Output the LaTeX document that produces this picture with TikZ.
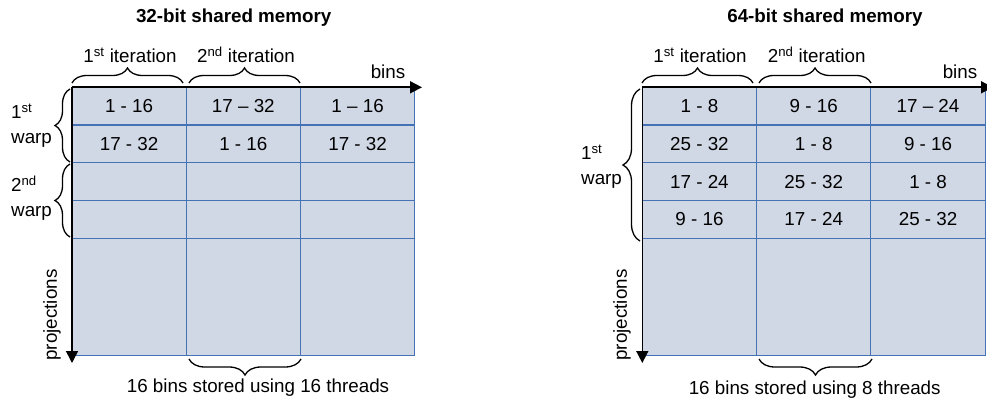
\documentclass[tikz,border=0pt]{standalone}
\usepackage{fontspec}
\setmainfont{Liberation Sans}
\usetikzlibrary{arrows.meta,decorations.pathreplacing}
\definecolor{cellfill}{HTML}{D0D7E5}
\definecolor{cellline}{HTML}{4472B4}
\begin{document}
\begin{tikzpicture}[x=1pt,y=-1pt,
  every node/.style={font=\fontsize{18.8}{25}\selectfont, inner sep=0pt},
  cell/.style={draw=cellline, fill=cellfill, line width=1.1pt, rectangle, minimum width=114.3pt, minimum height=37.7pt},
  bigcell/.style={cell, minimum height=117.6pt},
  axis/.style={line width=1.6pt, -{Triangle[length=12pt,width=12pt]}},
  bracedeco/.style={line width=1.3pt, decorate, decoration={brace, amplitude=15pt}},
  ttl/.style={font=\fontsize{18.8}{22}\selectfont\bfseries}]
\useasboundingbox (0,0) rectangle (987,401);

% ---------- left diagram ----------
\node[ttl] (t1) at (233.7,18) {32-bit shared memory};
\foreach \c/\x in {1/129.1,2/243.35,3/357.6}{
  \foreach \r/\y in {1/106.15,2/143.85,3/181.55,4/219.25}{
    \node[cell] (L\r\c) at (\x,\y) {};
  }
  \node[bigcell] (L5\c) at (\x,296.9) {};
}
\node at (L11) {1 - 16};
\node at (L12) {17 -- 32};
\node at (L13) {1 -- 16};
\node at (L21) {17 - 32};
\node at (L22) {1 - 16};
\node at (L23) {17 - 32};

\coordinate (LO) at (72,87.3);
\coordinate (LX) at (422,87.3);
\coordinate (LY) at (72,363);
\draw[axis] (LO) -- (LX);
\draw[axis] (LO) -- (LY);
\node (lbins) at (388,72) {bins};
\node[rotate=90] (lproj) at (52,315) {projections};

\coordinate (lb1a) at (72,83);   \coordinate (lb1b) at (183,83);
\coordinate (lb2a) at (189,83);  \coordinate (lb2b) at (300,83);
\draw[bracedeco] (lb1a) -- (lb1b);
\draw[bracedeco] (lb2a) -- (lb2b);
\node (lit1) at (130,55) {1\textsuperscript{st} iteration};
\node (lit2) at (246,55) {2\textsuperscript{nd} iteration};

\coordinate (lw1a) at (70,162); \coordinate (lw1b) at (70,89);
\coordinate (lw2a) at (70,237); \coordinate (lw2b) at (70,164);
\draw[bracedeco] (lw1a) -- (lw1b);
\draw[bracedeco] (lw2a) -- (lw2b);
\node[anchor=west, align=left] (lwarp1) at (11,126) {1\textsuperscript{st}\\warp};
\node[anchor=west, align=left] (lwarp2) at (11,198) {2\textsuperscript{nd}\\warp};

\coordinate (lbba) at (301,359); \coordinate (lbbb) at (189,359);
\draw[bracedeco, decoration={brace, amplitude=16pt}] (lbba) -- (lbbb);
\node (lbot) at (258,388) {16 bins stored using 16 threads};

% ---------- right diagram ----------
\node[ttl] (t2) at (825,18) {64-bit shared memory};
\foreach \c/\x in {1/699.45,2/813.75,3/928.05}{
  \foreach \r/\y in {1/106.15,2/143.85,3/181.55,4/219.25}{
    \node[cell] (R\r\c) at (\x,\y) {};
  }
  \node[bigcell] (R5\c) at (\x,296.9) {};
}
\node at (R11) {1 - 8};
\node at (R12) {9 - 16};
\node at (R13) {17 -- 24};
\node at (R21) {25 - 32};
\node at (R22) {1 - 8};
\node at (R23) {9 - 16};
\node at (R31) {17 - 24};
\node at (R32) {25 - 32};
\node at (R33) {1 - 8};
\node at (R41) {9 - 16};
\node at (R42) {17 - 24};
\node at (R43) {25 - 32};

\coordinate (RO) at (642.3,87.3);
\coordinate (RX) at (993,87.3);
\coordinate (RY) at (642.3,363);
\draw[axis] (RO) -- (RX);
\draw[axis] (RO) -- (RY);
\node (rbins) at (960,72) {bins};
\node[rotate=90] (rproj) at (622,315) {projections};

\coordinate (rb1a) at (642,83);  \coordinate (rb1b) at (753,83);
\coordinate (rb2a) at (759,83);  \coordinate (rb2b) at (871,83);
\draw[bracedeco] (rb1a) -- (rb1b);
\draw[bracedeco] (rb2a) -- (rb2b);
\node (rit1) at (700,55) {1\textsuperscript{st} iteration};
\node (rit2) at (816.7,55) {2\textsuperscript{nd} iteration};

\coordinate (rw1a) at (640,241); \coordinate (rw1b) at (640,89);
\draw[bracedeco, decoration={brace, amplitude=17pt}] (rw1a) -- (rw1b);
\node[anchor=west, align=left] (rwarp1) at (581,167) {1\textsuperscript{st}\\warp};

\coordinate (rbba) at (872,359); \coordinate (rbbb) at (759,359);
\draw[bracedeco, decoration={brace, amplitude=16pt}] (rbba) -- (rbbb);
\node (rbot) at (814.7,390) {16 bins stored using 8 threads};
\end{tikzpicture}
\end{document}
